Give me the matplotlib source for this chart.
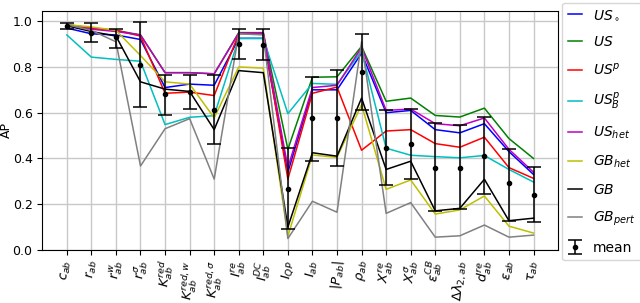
import numpy as np
import matplotlib
matplotlib.use('Agg')
import matplotlib.pyplot as plt

labels = [r'$c_{ab}$', r'$r_{ab}$', r'$r^w_{ab}$', r'$r^\sigma_{ab}$',
          r'$K^{red}_{ab}$', r'$K^{red,w}_{ab}$', r'$K^{red,\sigma}_{ab}$',
          r'$I^{re}_{ab}$', r'$I^{DC}_{ab}$', r'$I_{QP}$', r'$I_{ab}$',
          r'$|P_{ab}|$', r'$\rho_{ab}$', r'$X^{re}_{ab}$', r'$X^\sigma_{ab}$',
          r'$\varepsilon^{CB}_{ab}$', r'$\Delta\lambda_{2,ab}$', r'$d^{re}_{ab}$',
          r'$\varepsilon_{ab}$', r'$\tau_{ab}$']

# AP per feature for each model
us_circ = [0.97, 0.945, 0.94, 0.92, 0.71, 0.725, 0.72, 0.925, 0.925, 0.34, 0.70, 0.70,
           0.86, 0.60, 0.61, 0.526, 0.512, 0.552, 0.43, 0.33]
us = [0.985, 0.97, 0.96, 0.94, 0.775, 0.775, 0.77, 0.95, 0.95, 0.44, 0.755, 0.757,
      0.89, 0.65, 0.664, 0.588, 0.581, 0.62, 0.487, 0.40]
us_p = [0.985, 0.97, 0.96, 0.935, 0.685, 0.69, 0.675, 0.945, 0.945, 0.31, 0.685, 0.712,
        0.436, 0.52, 0.526, 0.465, 0.449, 0.493, 0.36, 0.313]
us_bp = [0.94, 0.843, 0.833, 0.825, 0.548, 0.58, 0.587, 0.925, 0.925, 0.596, 0.728, 0.724,
         0.87, 0.445, 0.414, 0.408, 0.403, 0.413, 0.352, 0.297]
us_het = [0.985, 0.965, 0.955, 0.94, 0.775, 0.775, 0.77, 0.948, 0.948, 0.36, 0.71, 0.72,
          0.885, 0.61, 0.616, 0.552, 0.543, 0.577, 0.44, 0.34]
gb_het = [0.985, 0.975, 0.96, 0.85, 0.735, 0.725, 0.578, 0.80, 0.795, 0.06, 0.415, 0.405,
          0.635, 0.265, 0.306, 0.157, 0.175, 0.236, 0.104, 0.074]
gb = [0.98, 0.955, 0.935, 0.735, 0.703, 0.693, 0.526, 0.784, 0.775, 0.10, 0.425, 0.41,
      0.664, 0.352, 0.388, 0.171, 0.182, 0.309, 0.128, 0.139]
gb_pert = [0.985, 0.96, 0.91, 0.367, 0.53, 0.574, 0.31, 0.945, 0.94, 0.05, 0.213, 0.165,
           0.91, 0.16, 0.207, 0.056, 0.062, 0.109, 0.056, 0.065]

mean_ap = [0.978, 0.95, 0.93, 0.807, 0.68, 0.69, 0.613, 0.90, 0.895, 0.268, 0.575, 0.575,
           0.78, 0.447, 0.465, 0.36, 0.36, 0.41, 0.291, 0.239]
err_lo = [0.013, 0.04, 0.045, 0.18, 0.09, 0.075, 0.148, 0.065, 0.065, 0.178, 0.185, 0.21,
          0.167, 0.163, 0.153, 0.19, 0.18, 0.167, 0.163, 0.118]
err_hi = [0.012, 0.04, 0.035, 0.188, 0.085, 0.075, 0.152, 0.065, 0.07, 0.178, 0.18, 0.21,
          0.162, 0.166, 0.15, 0.195, 0.185, 0.171, 0.152, 0.123]

series = [(us_circ, 'b', r'$US_\circ$'), (us, 'g', r'$US$'), (us_p, 'r', r'$US^p$'),
          (us_bp, 'c', r'$US^p_B$'), (us_het, 'm', r'$US_{het}$'),
          (gb_het, 'y', r'$GB_{het}$'), (gb, 'k', r'$GB$'), (gb_pert, 'gray', r'$GB_{pert}$')]

x = np.arange(len(labels))

fig = plt.figure(figsize=(6.4, 3.03), dpi=100)
ax = fig.add_axes([0.066, 0.175, 0.806, 0.789])

for vals, col, lab in series:
    ax.plot(x, vals, color=col, lw=1.1, label=lab)
ax.errorbar(x, mean_ap, yerr=[err_lo, err_hi], fmt='.', color='k', ecolor='k',
            elinewidth=1.1, capsize=5, capthick=1.1, ms=6, label='mean')

ax.set_xlim(-1, len(labels))
ax.set_ylim(0, 1.045)
ax.set_yticks([0, 0.2, 0.4, 0.6, 0.8, 1.0])
ax.set_xticks(x)
ax.set_xticklabels(labels, rotation=85, fontsize=9.5)
ax.tick_params(axis='y', labelsize=9)
ax.grid(True, color='#c8c8c8', lw=1)
ax.set_axisbelow(True)
ax.set_ylabel('AP', fontsize=9)
ax.yaxis.set_label_coords(-0.056, 0.5)

ax.legend(loc='upper left', bbox_to_anchor=(1.008, 1.035), fontsize=10,
          handlelength=1.0, labelspacing=0.92, borderaxespad=0.0)

fig.savefig('out.png', dpi=100)
